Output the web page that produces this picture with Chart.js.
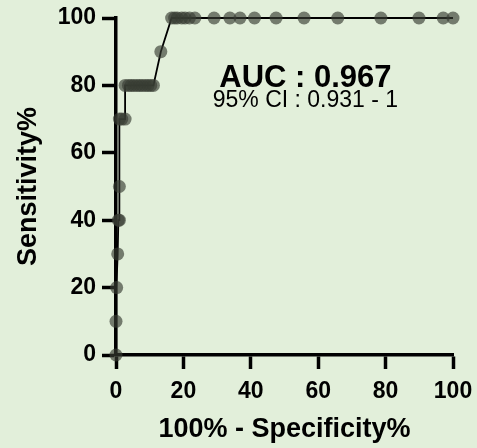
<!DOCTYPE html>
<html><head><meta charset="utf-8">
<script src="https://cdn.jsdelivr.net/npm/chart.js@4"></script>
<style>html,body{margin:0;padding:0;background:#e2efda;overflow:hidden}</style>
</head><body>
<canvas id="c" width="477" height="448" style="width:477px;height:448px;display:block"></canvas>
<script>
// ROC curve points: 100% - Specificity% (x) and Sensitivity% (y)
const fpr  = [0, 0, 0.2, 0.5, 0.7, 1.0, 1.0, 1.0, 1.7, 2.7, 2.7, 3.7, 4.5, 5.3, 6.2, 7.0, 7.8, 8.7, 9.5, 10.3, 11.1, 13.3, 16.5, 17.4, 18.2, 19.5, 20.5, 21.8, 23.4, 29.1, 33.8, 36.8, 41.1, 47.5, 55.8, 65.8, 78.6, 89.9, 97.1, 100];
const sens = [0, 10, 20, 30, 40, 40, 50, 70, 70, 70, 80, 80, 80, 80, 80, 80, 80, 80, 80, 80, 80, 90, 100, 100, 100, 100, 100, 100, 100, 100, 100, 100, 100, 100, 100, 100, 100, 100, 100, 100];
const xTicks = [0, 20, 40, 60, 80, 100];
const yTicks = [0, 20, 40, 60, 80, 100];
const xTitle = "100% - Specificity%";
const yTitle = "Sensitivity%";
const aucText = "AUC : 0.967";
const ciText = "95% CI : 0.931 - 1";

const FONT = "'Liberation Sans', Arial, sans-serif";

const textPlugin = {
  id: 'aucText',
  afterDatasetsDraw(chart) {
    const {ctx, scales} = chart;
    const cx = scales.x.getPixelForValue(56.2);
    ctx.save();
    ctx.fillStyle = '#000';
    ctx.textAlign = 'center';
    ctx.textBaseline = 'middle';
    ctx.font = "bold 31px " + FONT;
    ctx.fillText(aucText, cx, scales.y.getPixelForValue(82.2));
    ctx.font = "23px " + FONT;
    ctx.fillText(ciText, cx, scales.y.getPixelForValue(75.4));
    ctx.restore();
  }
};

const axisCommon = (ticksArr, title) => ({
  type: 'linear',
  min: 0, max: 100,
  afterBuildTicks: s => { s.ticks = ticksArr.map(v => ({value: v})); },
  border: {display: true, color: '#000', width: 3.5},
  grid: {drawOnChartArea: false, drawTicks: true, tickLength: 14, tickWidth: 3.5, tickColor: '#000'},
  ticks: {color: '#000', font: {family: FONT, size: 23, weight: 'bold'}, maxRotation: 0, autoSkip: false},
  title: {display: true, text: title, color: '#000', font: {family: FONT, size: 27, weight: 'bold'}}
});

const xAxis = axisCommon(xTicks, xTitle);
xAxis.position = 'bottom';
xAxis.ticks.padding = 9;
xAxis.title.padding = {top: 4, bottom: 2};
xAxis.afterFit = s => { s.height = 93; s.paddingLeft = 0; s.paddingRight = 0; };

const yAxis = axisCommon(yTicks, yTitle);
yAxis.position = 'left';
yAxis.ticks.padding = 6;
yAxis.title.padding = {top: 12, bottom: 4};
yAxis.afterFit = s => { s.width = 116; s.paddingTop = 0; s.paddingBottom = 0; };

new Chart(document.getElementById('c'), {
  type: 'scatter',
  data: {
    datasets: [{
      data: fpr.map((x, i) => ({x: x, y: sens[i]})),
      showLine: true,
      borderColor: '#000',
      borderWidth: 1.8,
      pointRadius: 6.5,
      pointBackgroundColor: 'rgba(55,60,50,0.65)',
      pointBorderWidth: 0,
      pointBorderColor: 'rgba(0,0,0,0)',
      clip: false
    }]
  },
  options: {
    responsive: false,
    devicePixelRatio: 1,
    animation: false,
    layout: {padding: {left: 0, right: 24, top: 18, bottom: 0}},
    plugins: {legend: {display: false}, tooltip: {enabled: false}},
    scales: {x: xAxis, y: yAxis}
  },
  plugins: [textPlugin]
});
</script>
</body></html>
